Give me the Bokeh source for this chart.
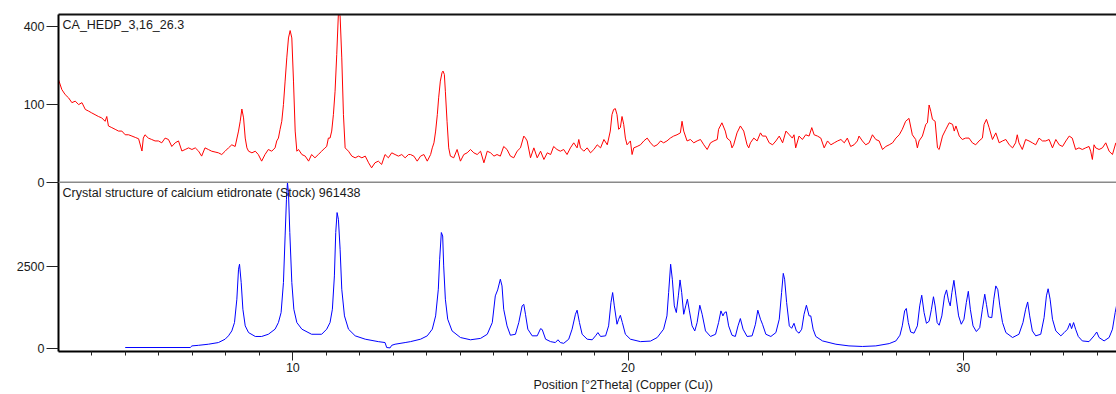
import numpy as np
from bokeh.plotting import figure
from bokeh.models import (FixedTicker, SingleIntervalTicker, CustomJSTickFormatter,
                          LinearAxis, Label, Range1d, Span, Title)
from bokeh.embed import file_html
from bokeh.resources import INLINE

# ---------------- data (counts vs 2theta) ----------------
sample_name = "CA_HEDP_3,16_26.3"
reference_name = "Crystal structure of calcium etidronate (Stock) 961438"
x_label = "Position [°2Theta] (Copper (Cu))"

red_x_a = [3.01,3.11,3.21,3.31,3.41,3.51,3.61,3.71,3.81,3.91,4.00,4.10,4.20,4.30,4.40,4.45,4.50,4.60,4.70,4.80,
           4.90,5.00,5.10,5.20,5.30,5.40,5.50,5.54,5.59,5.69,5.79,5.89,5.99,6.09,6.19,6.29,6.39,6.49,6.59,6.69,
           6.79,6.89,6.99,7.09,7.19,7.28,7.38,7.48,7.58,7.68,7.78,7.88,7.98,8.08,8.18,8.28,8.38,8.43,8.48,8.53,
           8.58,8.63,8.68,8.78,8.88,8.97,9.07,9.17,9.27,9.37,9.47,9.52,9.57,9.62,9.67,9.72,9.77,9.82,9.87,9.92,
           9.97,10.02,10.07,10.12,10.17,10.27,10.37,10.47,10.56,10.66,10.76,10.86,10.96,11.01,11.06,11.11,11.16,11.21,11.26,11.31,
           11.36,11.41,11.46,11.51,11.56,11.66,11.76,11.86,11.96,12.06,12.16,12.26,12.35,12.45,12.55,12.65,12.75,12.85,12.95,13.05,
           13.15,13.25,13.35,13.45]
red_y_a = [173,141,126,117,104,108,99,104,87,83,79,75,71,68,61,71,52,49,46,43,
           43,37,37,35,33,31,16,32,37,32,30,28,28,25.5,32,30,21,25.5,28,16,
           17.6,19.4,17.6,19.4,15.8,11.2,19.4,17.6,15.8,15,14.2,12.6,15.8,19.4,23,21,43,61,88,68,
           32,19.4,15.8,14.2,15.8,12.6,7.3,12.6,17.6,15.8,19.4,28,32,46,61,99,168,254,342,378,
           342,168,43,15.8,17.6,12.6,11.2,7.3,12.6,9.8,12.6,15.8,19.4,21,32,32,43,75,136,268,
           470,455,254,75,19.4,15.8,11.2,9.8,11.2,9.8,11.2,6.2,3.4,6.2,7.3,5.2,12.6,9.8,14.2,12.6,
           11.2,12.6,9.8,12.6]

red_x_b = [13.51,13.61,13.71,13.81,13.91,14.01,14.11,14.16,14.21,14.26,14.31,14.35,14.40,14.45,14.48,14.52,14.55,14.60,14.65,14.70,
           14.80,14.90,15.00,15.10,15.20,15.30,15.40,15.50,15.60,15.70,15.80,15.90,16.00,16.09,16.19,16.29,16.39,16.49,16.59,16.69,
           16.79,16.89,16.94,16.99,17.09,17.19,17.29,17.39,17.49,17.59,17.69,17.78,17.88,17.98,18.08,18.18,18.28,18.38,18.48,18.53,
           18.58,18.68,18.78,18.88,18.98,19.08,19.18,19.28,19.38,19.47,19.52,19.57,19.62,19.67,19.72,19.77,19.82,19.87,19.92,19.97,
           20.07,20.12,20.17,20.27,20.37,20.47,20.57,20.67,20.77,20.87,20.97,21.06,21.16,21.26,21.36,21.46,21.56,21.61,21.66,21.76,
           21.86,21.96,22.06,22.16,22.26,22.36,22.46,22.56,22.66,22.70,22.80,22.90,22.95,23.05,23.10,23.15,23.25,23.35,23.45,23.55,
           23.60,23.65,23.75,23.85,23.95]
red_y_b = [12.6,11.2,7.3,11.2,12.6,7.3,12.6,19.4,25.5,43,75,117,168,197,203,191,136,61,19.4,11.2,
           9.8,17.6,7.3,12.6,14.2,17.6,14.2,12.6,15.8,6.2,15.8,14.2,11.2,12.6,11.2,21,17.6,11.2,9.8,15.8,
           19.4,35,32,28,9.8,19.4,9.8,15.8,8.5,14.2,12.6,21,17.6,15.8,17.6,12.6,19.4,25.5,19.4,30,
           19.4,15.8,19.4,14.2,17.6,23,19.4,30,23,43,75,87,89,75,46,49,71,55,32,23,
           28,12.6,19.4,21,23,28,32,25.5,21,23,28,25.5,28,32,35,37,40,61,43,28,
           30,25.5,28,30,23,17.6,25.5,28,30,46,58,43,32,28,19.4,23,40,52,43,23,
           19.4,25.5,32,28,40]

red_x_c = [24.01,24.11,24.21,24.31,24.41,24.51,24.61,24.71,24.81,24.90,24.95,25.00,25.10,25.20,25.30,25.40,25.48,25.55,25.65,25.75,
           25.85,25.95,26.05,26.15,26.25,26.35,26.45,26.54,26.64,26.74,26.84,26.89,26.99,27.09,27.19,27.29,27.39,27.49,27.59,27.69,
           27.79,27.89,27.99,28.09,28.18,28.28,28.38,28.48,28.58,28.63,28.68,28.78,28.88,28.93,28.98,29.03,29.08,29.16,29.23,29.28,
           29.38,29.48,29.58,29.68,29.73,29.78,29.88,29.97,30.07,30.17,30.27,30.37,30.47,30.57,30.62,30.69,30.77,30.87,30.97,31.07,
           31.17,31.27,31.37,31.47,31.56,31.61,31.66,31.76,31.86,31.96,32.06,32.16,32.26,32.36,32.46,32.56,32.66,32.76,32.86,32.96,
           33.06,33.16,33.25,33.35,33.45,33.55,33.65,33.75,33.80,33.85,33.90,33.95,34.05,34.15,34.25,34.35,34.45,34.55]
red_y_c = [35,35,25.5,23,28,35,25.5,43,37,32,37,19.4,35,30,37,35,49,37,35,32,
           19.4,28,23,25.5,28,30,25.5,32,21,23,28,35,28,23,25.5,37,30,28,17.6,21,
           23,25.5,32,37,46,61,67,37,30,19.4,28,35,55,58,98,83,65,61,19.4,17.6,
           35,46,58,55,43,52,35,30,32,32,25.5,23,28,32,55,65,49,30,40,25.5,
           28,30,23,19.4,25.5,37,25.5,17.6,30,28,25.5,23,32,28,28,30,19.4,30,23,21,
           28,35,32,17.6,19.4,17.6,19.4,21,15.8,8.5,23,19.4,17.6,19.4,25.5,15.8,12.6,25.5]

blue_x_a = [5.00,6.94,6.99,7.19,7.48,7.78,7.98,8.08,8.18,8.26,8.33,8.38,8.41,8.46,8.51,8.58,8.68,8.88,9.07,9.27,
            9.47,9.57,9.65,9.72,9.77,9.81,9.84,9.87,9.91,9.97,10.03,10.12,10.27,10.56,10.86,11.01,11.11,11.18,11.24,11.28,
            11.32,11.36,11.41,11.46,11.54,11.66,11.86,12.16,12.55,12.75,12.80,12.90,12.95,13.05,13.35]
blue_y_a = [0.6,0.6,3.1,4.5,7.7,14.4,34,62,118,254,907,2338,2640,1620,578,194,97,56,56,78,
            142,254,485,1620,4700,8257,10200,9000,4990,1620,578,254,142,78,78,142,254,578,1962,4990,
            6850,6190,3660,1310,400,142,62,34,19,14.4,0.6,0.3,4.5,7.7,14.4]

blue_x_b = [13.51,13.81,14.01,14.16,14.26,14.34,14.38,14.43,14.47,14.50,14.55,14.62,14.75,15.00,15.30,15.60,15.80,15.95,16.04,16.11,
            16.19,16.24,16.29,16.39,16.49,16.64,16.74,16.84,16.89,16.94,17.01,17.14,17.29,17.39,17.44,17.54,17.69,17.83,17.91,17.98,
            18.08,18.23,18.33,18.43,18.48,18.55,18.63,18.78,18.93,19.03,19.10,19.18,19.33,19.42,19.49,19.54,19.59,19.67,19.72,19.77,
            19.83,19.92,20.07,20.37,20.67,20.87,21.06,21.16,21.21,21.27,21.32,21.38,21.44,21.50,21.55,21.60,21.66,21.72,21.77,21.83,
            21.91,21.99,22.06,22.14,22.21,22.31,22.46,22.61,22.70,22.77,22.83,22.88,22.93,23.00,23.10,23.20,23.28,23.35,23.43,23.55,
            23.70,23.80,23.87,23.95]
blue_y_b = [19,34,62,142,400,1310,2960,4990,4700,2537,907,323,118,47,30,40,78,254,1034,1280,
            1787,1460,578,194,68,78,254,680,730,440,142,62,62,150,136,34,19,14.4,30,14.4,
            11,34,142,440,550,254,78,34,30,62,97,56,62,194,790,1168,680,223,323,415,
            254,78,34,19,22,47,142,400,1168,2640,1787,680,485,1034,1750,1168,440,680,907,530,
            194,118,254,700,440,118,56,78,254,530,400,485,505,194,68,56,194,338,142,56,
            62,223,550,323]

blue_x_c = [24.01,24.11,24.26,24.41,24.51,24.58,24.63,24.67,24.73,24.81,24.88,24.95,25.02,25.10,25.18,25.25,25.32,25.40,25.45,25.52,
            25.60,25.80,26.20,26.59,26.99,27.39,27.79,27.99,28.11,28.18,28.25,28.30,28.36,28.43,28.53,28.63,28.70,28.76,28.83,28.90,
            28.98,29.05,29.11,29.16,29.22,29.28,29.36,29.44,29.50,29.56,29.61,29.66,29.72,29.78,29.86,29.94,30.02,30.09,30.15,30.21,
            30.29,30.39,30.49,30.57,30.64,30.69,30.75,30.85,30.91,30.97,31.03,31.09,31.17,31.27,31.47,31.66,31.78,31.86,31.92,31.98,
            32.06,32.16,32.31,32.41,32.48,32.53,32.59,32.66,32.76,32.91,33.01,33.11,33.18,33.23,33.29,33.35,33.43,33.55,33.75,33.90,
            33.98,34.05,34.20,34.35,34.45,34.53,34.57]
blue_y_c = [223,78,56,97,323,1168,2100,1787,790,194,155,240,118,90,142,440,700,400,400,142,
            56,23,7.7,3.1,2,3.1,10,23,68,194,530,600,254,104,90,194,680,1060,485,240,
            280,578,1000,680,254,205,400,1034,1280,850,680,1168,1730,1034,400,223,323,790,1220,578,
            194,110,165,578,1100,730,375,358,907,1460,1290,680,254,97,47,78,254,578,810,400,
            118,62,78,358,1034,1330,907,323,118,62,97,142,240,150,254,142,56,23,19,62,
            104,47,23,47,142,485,680]

top_ticks = [0, 100, 400]
bottom_ticks = [0, 2500]

red_x = red_x_a + red_x_b + red_x_c
red_y = red_y_a + red_y_b + red_y_c
blue_x = blue_x_a + blue_x_b + blue_x_c
blue_y = blue_y_a + blue_y_b + blue_y_c

# ---------------- styling ----------------
FONT = "Liberation Sans"
FS = "12.5px"
TXT = "#1a1a1a"

# both panels use a square-root intensity scale; one frame, two stacked y-ranges
yr_bottom = Range1d(-1.64, 203.1)   # sqrt(counts) of reference pattern, lower half
yr_top = Range1d(-21.7, 21.5)       # sqrt(counts) of measured pattern, upper half
xr = Range1d(3.01, 34.57)

p = figure(width=1116, height=394, x_range=xr, y_range=yr_bottom,
           output_backend="svg", toolbar_location=None, x_axis_location=None,
           y_axis_location=None,
           min_border_left=58, min_border_right=0, min_border_top=14, min_border_bottom=43)
p.extra_y_ranges = {"top": yr_top}
p.grid.visible = False
p.outline_line_color = None


def to_bottom_units(s):
    return yr_bottom.start + (s - yr_top.start) / (yr_top.end - yr_top.start) * (yr_bottom.end - yr_bottom.start)


tick_pos = [float(v) for v in np.sqrt(bottom_ticks)] + [float(to_bottom_units(v)) for v in np.sqrt(top_ticks)]
fmt = CustomJSTickFormatter(args=dict(B=yr_bottom, T=yr_top), code="""
    if (tick > 100.5) {
        const s = T.start + (tick - B.start) / (B.end - B.start) * (T.end - T.start);
        return Math.round(s * s).toString();
    }
    return Math.round(tick * tick).toString();
""")

yaxis = LinearAxis(ticker=FixedTicker(ticks=tick_pos, minor_ticks=[]), formatter=fmt,
                   axis_line_width=2, axis_line_color="#000000",
                   major_tick_in=0, major_tick_out=12, major_tick_line_color="#222222",
                   minor_tick_line_color=None, major_label_standoff=2,
                   major_label_text_font=FONT, major_label_text_font_size=FS,
                   major_label_text_color=TXT)
p.add_layout(yaxis, "left")

xaxis = LinearAxis(ticker=SingleIntervalTicker(interval=10, num_minor_ticks=10),
                   axis_line_width=2, axis_line_color="#000000",
                   major_tick_in=0, major_tick_out=9, minor_tick_in=0, minor_tick_out=4,
                   major_tick_line_color="#222222", minor_tick_line_color="#222222",
                   major_label_standoff=2, major_label_text_font=FONT,
                   major_label_text_font_size=FS, major_label_text_color=TXT)
p.add_layout(xaxis, "below")

# axis title, placed a little right of the frame centre as in the original
p.add_layout(Title(text=x_label, align="left", offset=475, standoff=2,
                   text_font=FONT, text_font_size=FS, text_font_style="normal",
                   text_color=TXT), "below")

top_border = LinearAxis(ticker=FixedTicker(ticks=[]), axis_line_color="#111111", axis_line_width=2,
                        major_tick_line_color=None, minor_tick_line_color=None,
                        major_label_text_font_size="0px")
p.add_layout(top_border, "above")

# separator between the two panels (zero of the upper panel)
p.add_layout(Span(location=0, dimension="width", y_range_name="top",
                  line_color="#8a8a8a", line_width=1.5))

p.line(red_x, np.sqrt(red_y), line_color="#ff0000", line_width=1, y_range_name="top")
p.line(blue_x, np.sqrt(blue_y), line_color="#0000ff", line_width=1)

p.add_layout(Label(x=3.13, y=21.1, y_range_name="top", text=sample_name, text_baseline="top",
                   text_font=FONT, text_font_size=FS, text_color=TXT))
p.add_layout(Label(x=3.13, y=99.2, text=reference_name, text_baseline="top",
                   text_font=FONT, text_font_size=FS, text_color=TXT))

open("out.html", "w").write(file_html(p, INLINE))
